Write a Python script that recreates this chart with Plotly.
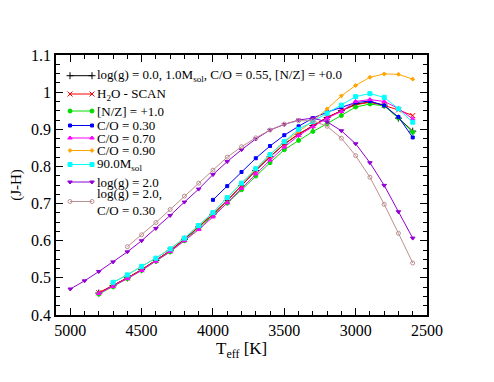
import plotly.graph_objects as go

# Effective temperature grid (K)
T_main = [4800, 4700, 4600, 4500, 4400, 4300, 4200, 4100, 4000, 3900, 3800, 3700,
          3600, 3500, 3400, 3300, 3200, 3100, 3000, 2900, 2800, 2700, 2600]
T_cyan = T_main[1:]
T_orange = T_main[1:]
T_blue = [4000, 3900, 3800, 3700, 3600, 3500, 3400, 3300, 3200, 3100, 3000, 2900, 2800, 2700, 2600]
T_purple = [5000, 4900] + T_main
T_brown = T_main[2:]

# (J-H) colours
jh_ref = [0.459, 0.479, 0.500, 0.522, 0.547, 0.573, 0.604, 0.637, 0.671, 0.708, 0.748, 0.789,
          0.826, 0.860, 0.887, 0.910, 0.932, 0.950, 0.968, 0.973, 0.965, 0.930, 0.895]
jh_h2o = [0.460, 0.479, 0.500, 0.522, 0.547, 0.573, 0.604, 0.637, 0.671, 0.708, 0.748, 0.789,
          0.826, 0.860, 0.887, 0.910, 0.932, 0.950, 0.966, 0.973, 0.964, 0.952, 0.937]
jh_nz = [0.456, 0.476, 0.498, 0.520, 0.545, 0.570, 0.600, 0.633, 0.667, 0.701, 0.737, 0.774,
         0.810, 0.845, 0.870, 0.894, 0.915, 0.937, 0.960, 0.968, 0.963, 0.930, 0.892]
jh_co30 = [0.710, 0.747, 0.785, 0.822, 0.855, 0.884, 0.908, 0.930, 0.946, 0.960, 0.972, 0.976,
           0.964, 0.933, 0.878]
jh_co70 = [0.458, 0.477, 0.498, 0.520, 0.545, 0.571, 0.600, 0.630, 0.664, 0.702, 0.741, 0.780,
           0.817, 0.852, 0.883, 0.907, 0.930, 0.948, 0.975, 0.980, 0.975, 0.956, 0.928]
jh_co90 = [0.488, 0.508, 0.531, 0.553, 0.578, 0.607, 0.641, 0.676, 0.716, 0.755, 0.794,
           0.832, 0.866, 0.895, 0.922, 0.955, 0.990, 1.018, 1.040, 1.049, 1.048, 1.035]
jh_m90 = [0.488, 0.508, 0.531, 0.553, 0.578, 0.607, 0.641, 0.676, 0.716, 0.755, 0.794,
          0.832, 0.867, 0.900, 0.921, 0.943, 0.965, 0.988, 0.996, 0.986, 0.955, 0.919]
jh_lg2 = [0.470, 0.492, 0.517, 0.543, 0.570, 0.600, 0.633, 0.668, 0.704, 0.739, 0.778, 0.813,
          0.845, 0.874, 0.898, 0.913, 0.925, 0.930, 0.920, 0.896, 0.861, 0.810, 0.749, 0.678, 0.607]
jh_lg2co = [0.584, 0.616, 0.649, 0.684, 0.720, 0.755, 0.790, 0.825, 0.853, 0.877, 0.898,
            0.914, 0.923, 0.923, 0.908, 0.876, 0.829, 0.771, 0.698, 0.620, 0.540]

x_ticks = [5000, 4500, 4000, 3500, 3000, 2500]
y_ticks = [0.4, 0.5, 0.6, 0.7, 0.8, 0.9, 1.0, 1.1]

legend_labels = [
    "log(g) = 0.0, 1.0M<sub>sol</sub>, C/O = 0.55, [N/Z] = +0.0",
    "H<sub>2</sub>O - SCAN",
    "[N/Z] = +1.0",
    "C/O = 0.30",
    "C/O = 0.70",
    "C/O = 0.90",
    "90.0M<sub>sol</sub>",
    "log(g) = 2.0",
    "log(g) = 2.0,<br>C/O = 0.30",
]

styles = [  # colour, symbol, size
    ("#000000", "cross-thin-open", 5),
    ("#ff0000", "x-thin-open", 5),
    ("#00dd00", "circle", 4),
    ("#0000ff", "square", 3),
    ("#ff00ff", "triangle-up", 4),
    ("#ffa500", "diamond", 3),
    ("#00ffff", "square", 4),
    ("#9400d3", "triangle-down", 4),
    ("#bc8f8f", "circle-open", 4),
]
data = [(T_main, jh_ref), (T_main, jh_h2o), (T_main, jh_nz), (T_blue, jh_co30),
        (T_main, jh_co70), (T_orange, jh_co90), (T_cyan, jh_m90), (T_purple, jh_lg2),
        (T_brown, jh_lg2co)]

# legend key layout (page pixels) -> converted to fractions of plot area
PX_L, PX_R, PX_T, PX_B = 56, 427, 55, 315
legend_rows_px = [75.7, 94, 111, 125.5, 138, 150.5, 164.5, 182, 201.5]
key_x_px = (70, 92)
text_x_px = 95

def fx(px):
    return (px - PX_L) / (PX_R - PX_L)

def fy(py):
    return (PX_B - py) / (PX_B - PX_T)

fig = go.Figure()
for (xs, ys), (col, sym, sz), name in zip(data, styles, legend_labels):
    fig.add_trace(go.Scatter(
        x=xs, y=ys, mode="lines+markers", name=name, showlegend=False,
        line=dict(color=col, width=1),
        marker=dict(symbol=sym, size=sz, color=col, line=dict(width=1, color=col)),
    ))

font = "Liberation Serif"
annotations = []
for (col, sym, sz), name, py in zip(styles, legend_labels, legend_rows_px):
    fig.add_trace(go.Scatter(
        x=[fx(key_x_px[0]), fx(key_x_px[1])], y=[fy(py), fy(py)],
        xaxis="x2", yaxis="y2", mode="lines+markers", showlegend=False, hoverinfo="skip",
        line=dict(color=col, width=1), cliponaxis=False,
        marker=dict(symbol=sym, size=sz, color=col, line=dict(width=1, color=col)),
    ))
    annotations.append(dict(text=name, xref="paper", yref="paper", x=fx(text_x_px), y=fy(py),
                            xanchor="left", yanchor="middle", showarrow=False, align="left",
                            font=dict(size=13, family=font, color="black")))

annotations.append(dict(text="T<sub>eff</sub> [K]", xref="paper", yref="paper",
                        x=0.5, y=-0.085, xanchor="center", yanchor="top", showarrow=False,
                        font=dict(size=17, family=font)))

fig.update_layout(
    width=494, height=382,
    margin=dict(l=48, r=75, t=47, b=75),
    paper_bgcolor="white", plot_bgcolor="white",
    font=dict(family=font, size=16, color="black"),
    showlegend=False,
    annotations=annotations,
    xaxis2=dict(overlaying="x", range=[0, 1], visible=False, fixedrange=True),
    yaxis2=dict(overlaying="y", range=[0, 1], visible=False, fixedrange=True),
)
fig.update_layout(xaxis=dict(
    range=[5100, 2500], tickvals=x_ticks, showgrid=False, zeroline=False, automargin=False,
    showline=True, linecolor="black", linewidth=1.5, mirror="allticks",
    ticks="inside", ticklen=7, tickwidth=1, tickcolor="black",
    minor=dict(dtick=100, ticks="inside", ticklen=4, tickcolor="black", tickwidth=1, showgrid=False),
    tickfont=dict(size=16, family=font),
))
fig.update_layout(yaxis=dict(
    range=[0.4, 1.1], tickvals=y_ticks, showgrid=False, zeroline=False, automargin=False,
    showline=True, linecolor="black", linewidth=1.5, mirror="allticks",
    ticks="inside", ticklen=7, tickwidth=1, tickcolor="black",
    minor=dict(dtick=0.025, ticks="inside", ticklen=4, tickcolor="black", tickwidth=1, showgrid=False),
    title=dict(text="(J-H)", standoff=6, font=dict(size=15, family=font)),
    tickfont=dict(size=16, family=font),
))
fig.write_html("out.html")
